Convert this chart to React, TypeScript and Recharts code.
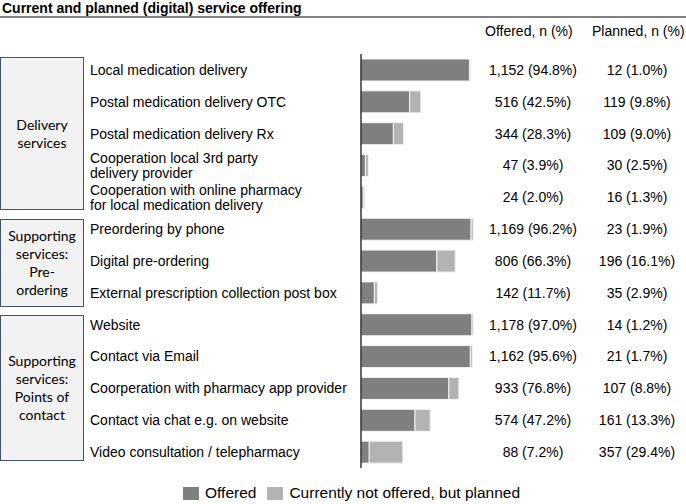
import { Bar, BarChart, Legend, XAxis, YAxis } from 'recharts';

const services = [
  'Local medication delivery',
  'Postal medication delivery OTC',
  'Postal medication delivery Rx',
  'Cooperation local 3rd party\ndelivery provider',
  'Cooperation with online pharmacy\nfor local medication delivery',
  'Preordering by phone',
  'Digital pre-ordering',
  'External prescription collection post box',
  'Website',
  'Contact via Email',
  'Coorperation with pharmacy app provider',
  'Contact via chat e.g. on website',
  'Video consultation / telepharmacy',
];
const offeredN = [1152, 516, 344, 47, 24, 1169, 806, 142, 1178, 1162, 933, 574, 88];
const offeredPct = [94.8, 42.5, 28.3, 3.9, 2.0, 96.2, 66.3, 11.7, 97.0, 95.6, 76.8, 47.2, 7.2];
const plannedN = [12, 119, 109, 30, 16, 23, 196, 35, 14, 21, 107, 161, 357];
const plannedPct = [1.0, 9.8, 9.0, 2.5, 1.3, 1.9, 16.1, 2.9, 1.2, 1.7, 8.8, 13.3, 29.4];

const groups = [
  { lines: ['Delivery', 'services'], top: 57, height: 153 },
  { lines: ['Supporting', 'services:', 'Pre-', 'ordering'], top: 219, height: 88 },
  { lines: ['Supporting', 'services:', 'Points of', 'contact'], top: 315, height: 146 },
];

const data = services.map((label, i) => ({
  label,
  offered: offeredPct[i],
  planned: plannedPct[i],
}));

const FONT = '"Liberation Sans", Arial, sans-serif';
const OFFERED = '#7f7f7f';
const PLANNED = '#b3b3b3';

function fmt(n: number, pct: number): string {
  return `${n.toLocaleString('en-US')} (${pct.toFixed(1)}%)`;
}

function RowTick(props: any) {
  const { y, payload, index } = props;
  const lines: string[] = String(payload.value).split('\n');
  const i = index ?? services.indexOf(payload.value);
  return (
    <g fontFamily={FONT} fontSize={14} fill="#000">
      {lines.length === 1 ? (
        <text x={90} y={y} dy="0.35em" textAnchor="start" fill="#000">
          {lines[0]}
        </text>
      ) : (
        lines.map((l, k) => (
          <text key={k} x={90} y={y - 7.5 + k * 15} dy="0.35em" textAnchor="start" fill="#000">
            {l}
          </text>
        ))
      )}
      <text x={533} y={y} dy="0.35em" textAnchor="middle" fill="#000">
        {fmt(offeredN[i], offeredPct[i])}
      </text>
      <text x={637} y={y} dy="0.35em" textAnchor="middle" fill="#000">
        {fmt(plannedN[i], plannedPct[i])}
      </text>
    </g>
  );
}

function LegendBox() {
  const item = (color: string, text: string) => (
    <div style={{ display: 'flex', alignItems: 'center', marginRight: 11 }}>
      <div style={{ width: 16, height: 13, background: color, marginRight: 6 }} />
      <span>{text}</span>
    </div>
  );
  return (
    <div
      style={{
        height: 36,
        boxSizing: 'border-box',
        paddingTop: 14,
        paddingLeft: 183,
        display: 'flex',
        alignItems: 'center',
        fontFamily: FONT,
        fontSize: 15.5,
        color: '#000',
      }}
    >
      {item(OFFERED, 'Offered')}
      {item(PLANNED, 'Currently not offered, but planned')}
    </div>
  );
}

export default function App() {
  return (
    <div style={{ position: 'absolute', left: 0, top: 0, width: 686, height: 504, background: '#fff' }}>
      <BarChart
        width={686}
        height={504}
        data={data}
        layout="vertical"
        margin={{ top: 54, right: 210.6, bottom: 0, left: 0 }}
        barSize={22}
      >
        <XAxis type="number" domain={[0, 100]} hide />
        <YAxis
          type="category"
          dataKey="label"
          width={361}
          tickLine={false}
          axisLine={{ stroke: '#000', strokeWidth: 1.2 }}
          tick={<RowTick />}
          interval={0}
        />
        <Legend
          verticalAlign="bottom"
          content={<LegendBox />}
          wrapperStyle={{ left: 0, width: 686, bottom: 0 }}
        />
        <Bar dataKey="offered" stackId="a" fill={OFFERED} stroke="#f4f4f4" strokeWidth={1} isAnimationActive={false} />
        <Bar dataKey="planned" stackId="a" fill={PLANNED} stroke="#f4f4f4" strokeWidth={1} isAnimationActive={false} />
      </BarChart>

      <div
        style={{
          position: 'absolute',
          left: 2,
          top: 0,
          fontFamily: FONT,
          fontWeight: 'bold',
          fontSize: 14,
          lineHeight: '16px',
          color: '#000',
          whiteSpace: 'nowrap',
        }}
      >
        Current and planned (digital) service offering
      </div>
      <div style={{ position: 'absolute', left: 0, top: 16, width: 686, height: 2, background: '#808080' }} />
      <div
        style={{
          position: 'absolute',
          top: 23,
          left: 0,
          width: 686,
          fontFamily: FONT,
          fontSize: 14,
          lineHeight: '16px',
          color: '#000',
        }}
      >
        <span style={{ position: 'absolute', left: 485, whiteSpace: 'nowrap' }}>Offered, n (%)</span>
        <span style={{ position: 'absolute', left: 592, whiteSpace: 'nowrap' }}>Planned, n (%)</span>
      </div>
      {groups.map((g, i) => (
        <div
          key={i}
          style={{
            position: 'absolute',
            left: 0,
            top: g.top,
            width: 84,
            height: g.height,
            boxSizing: 'border-box',
            border: '1.5px solid #44546a',
            background: '#f2f2f2',
            display: 'flex',
            flexDirection: 'column',
            justifyContent: 'center',
            alignItems: 'center',
            fontFamily: 'Lato, "Open Sans", sans-serif',
            fontSize: 14,
            lineHeight: '18px',
            color: '#000',
            textAlign: 'center',
          }}
        >
          {g.lines.map((l, k) => (
            <div key={k}>{l}</div>
          ))}
        </div>
      ))}
    </div>
  );
}
